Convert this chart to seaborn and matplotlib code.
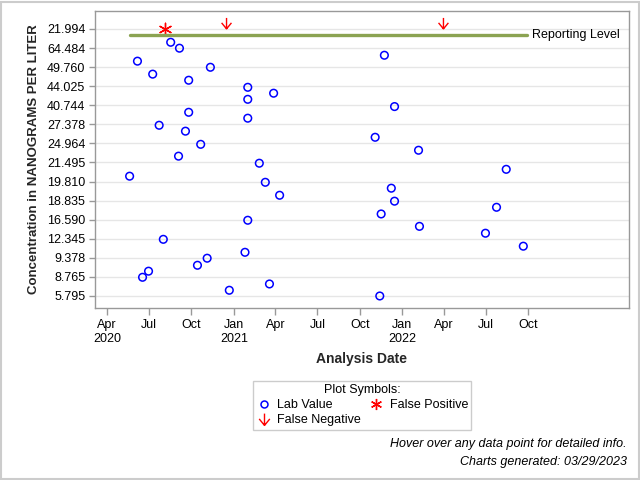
import matplotlib
matplotlib.use("Agg")
import matplotlib.pyplot as plt
import matplotlib.dates as mdates
from matplotlib.path import Path
from matplotlib.lines import Line2D
from matplotlib.patches import Rectangle
from matplotlib.markers import MarkerStyle
import seaborn as sns
import pandas as pd

# ---------------- data ----------------
# y axis is an ordinal scale: tick i carries label y_tick_labels[i]
y_tick_labels = ["5.795", "8.765", "9.378", "12.345", "16.590", "18.835", "19.810",
                 "21.495", "24.964", "27.378", "40.744", "44.025", "49.760",
                 "64.484", "21.994"]

lab_dates = ["2020-06-06", "2020-07-09", "2020-08-17", "2020-09-05", "2020-09-25",
             "2020-11-11", "2021-01-31", "2021-03-28", "2021-01-31", "2020-09-25",
             "2021-01-31", "2020-07-23", "2020-09-18", "2020-10-21", "2020-09-03",
             "2020-05-20", "2021-02-25", "2021-03-10", "2021-04-10", "2021-01-31",
             "2020-08-01", "2021-01-25", "2020-11-04", "2020-10-14", "2020-06-30",
             "2020-06-17", "2021-03-19", "2020-12-22", "2021-11-23", "2021-12-15",
             "2021-11-03", "2022-02-05", "2022-08-14", "2021-12-08", "2021-12-15",
             "2022-07-24", "2021-11-16", "2022-02-07", "2022-06-30", "2022-09-20",
             "2021-11-13"]
lab_pos = [12.31, 11.63, 13.30, 12.99, 11.31,
           11.99, 10.94, 10.63, 10.31, 9.63,
           9.32, 8.95, 8.64, 7.95, 7.33,
           6.28, 6.96, 5.96, 5.28, 3.97,
           2.97, 2.29, 1.98, 1.61, 1.30,
           0.98, 0.63, 0.30, 12.62, 9.93,
           8.32, 7.64, 6.64, 5.65, 4.97,
           4.65, 4.30, 3.65, 3.29, 2.61,
           0.00]

fp_dates = ["2020-08-05"]
fp_pos = [14.0]

fn_dates = ["2020-12-16", "2022-03-31"]
fn_pos = [14.29, 14.29]

reporting_dates = ["2020-05-20", "2022-09-28"]
reporting_pos = [13.69, 13.69]
reporting_label = "Reporting Level"

x_tick_dates = ["2020-04-01", "2020-07-01", "2020-10-01", "2021-01-01", "2021-04-01",
                "2021-07-01", "2021-10-01", "2022-01-01", "2022-04-01", "2022-07-01",
                "2022-10-01"]
x_tick_labels = ["Apr\n2020", "Jul", "Oct", "Jan\n2021", "Apr", "Jul", "Oct",
                 "Jan\n2022", "Apr", "Jul", "Oct"]

# ---------------- style ----------------
sns.set_style("white")
plt.rcParams["font.family"] = ["Liberation Sans", "DejaVu Sans"]
plt.rcParams["text.color"] = "#000000"

lab_df = pd.DataFrame({"date": pd.to_datetime(lab_dates), "pos": lab_pos})
fp_df = pd.DataFrame({"date": pd.to_datetime(fp_dates), "pos": fp_pos})
fn_df = pd.DataFrame({"date": pd.to_datetime(fn_dates), "pos": fn_pos})
rl_df = pd.DataFrame({"date": pd.to_datetime(reporting_dates), "pos": reporting_pos})

arrow_path = Path([(0, 1), (0, -1), (-0.9, 0.1), (0, -1), (0.9, 0.1)],
                  [Path.MOVETO, Path.LINETO, Path.MOVETO, Path.LINETO, Path.LINETO])
arrow_marker = MarkerStyle(arrow_path)

fig = plt.figure(figsize=(6.4, 4.8), dpi=100)
ax = fig.add_axes([95 / 640, 1 - 308 / 480, 534 / 640, 297 / 480])

# grid
ax.set_yticks(range(len(y_tick_labels)))
ax.set_yticklabels(y_tick_labels)
ax.grid(axis="y", color="#e6e6e6", lw=1)
ax.grid(axis="x", visible=False)
ax.set_axisbelow(True)

sns.lineplot(data=rl_df, x="date", y="pos", color="#8BA352", lw=2.4, ax=ax,
             legend=False)
sns.scatterplot(data=lab_df, x="date", y="pos", marker="o", s=30,
                facecolor="none", edgecolor="#0000ff", linewidth=1.1, ax=ax,
                legend=False)
sns.scatterplot(data=fp_df, x="date", y="pos", marker=(6, 2, 0), s=80,
                color="#ff0000", linewidth=1.0, ax=ax, legend=False)
sns.scatterplot(data=fn_df, x="date", y="pos", marker=arrow_marker, s=62,
                facecolor="none", edgecolor="#ff0000", linewidth=1.0, ax=ax,
                legend=False)

ax.text(rl_df["date"].iloc[-1] + pd.Timedelta(days=10), reporting_pos[-1],
        reporting_label, va="center", ha="left", fontsize=9)

ax.set_xlim(pd.Timestamp("2020-03-06"), pd.Timestamp("2023-05-07"))
ax.set_ylim(-0.63, 14.94)
ax.set_xticks(pd.to_datetime(x_tick_dates))
ax.set_xticklabels(x_tick_labels)

for s in ax.spines.values():
    s.set_color("#999999")
    s.set_linewidth(1)
ax.tick_params(axis="both", which="both", length=4, width=1, color="#999999",
               labelsize=9, labelcolor="#000000", direction="out")
ax.tick_params(axis="x", length=5, pad=3)
ax.tick_params(axis="y", pad=3)
ax.tick_params(left=True, bottom=True)

ax.set_xlabel("Analysis Date", fontsize=10, fontweight="bold", labelpad=5)
ax.set_ylabel("Concentration in NANOGRAMS PER LITER", fontsize=9.5,
              fontweight="bold", labelpad=5)

# legend
handles = [
    Line2D([], [], ls="none", marker="o", mfc="none", mec="#0000ff", ms=5, mew=1.1),
    Line2D([], [], ls="none", marker=arrow_marker, mfc="none", mec="#ff0000", ms=8.5, mew=1.0),
    Line2D([], [], ls="none", marker=(6, 2, 0), color="#ff0000", ms=8, mew=1.0),
]
labels = ["Lab Value", "False Negative", "False Positive"]
leg = fig.legend(handles, labels, ncol=2, loc="upper left",
                 bbox_to_anchor=(253 / 640, 1 - 381 / 480),
                 title="Plot Symbols:", fontsize=9, title_fontsize=9,
                 frameon=True, fancybox=False, edgecolor="#c0c0c0",
                 borderpad=0.25, handletextpad=0.5, columnspacing=0.6,
                 labelspacing=0.25, handlelength=1.2, borderaxespad=0)
leg.get_frame().set_linewidth(1)

fig.text(627 / 640, 1 - 444 / 480, "Hover over any data point for detailed info.",
         ha="right", va="center", fontsize=9, style="italic")
fig.text(627 / 640, 1 - 462 / 480, "Charts generated: 03/29/2023",
         ha="right", va="center", fontsize=9, style="italic")

fig.patches.append(Rectangle((0.5 / 640, 1.5 / 480), 638.5 / 640, 477 / 480,
                             transform=fig.transFigure, fill=False,
                             ec="#cccccc", lw=1.5))

fig.savefig("out.png", dpi=100)
